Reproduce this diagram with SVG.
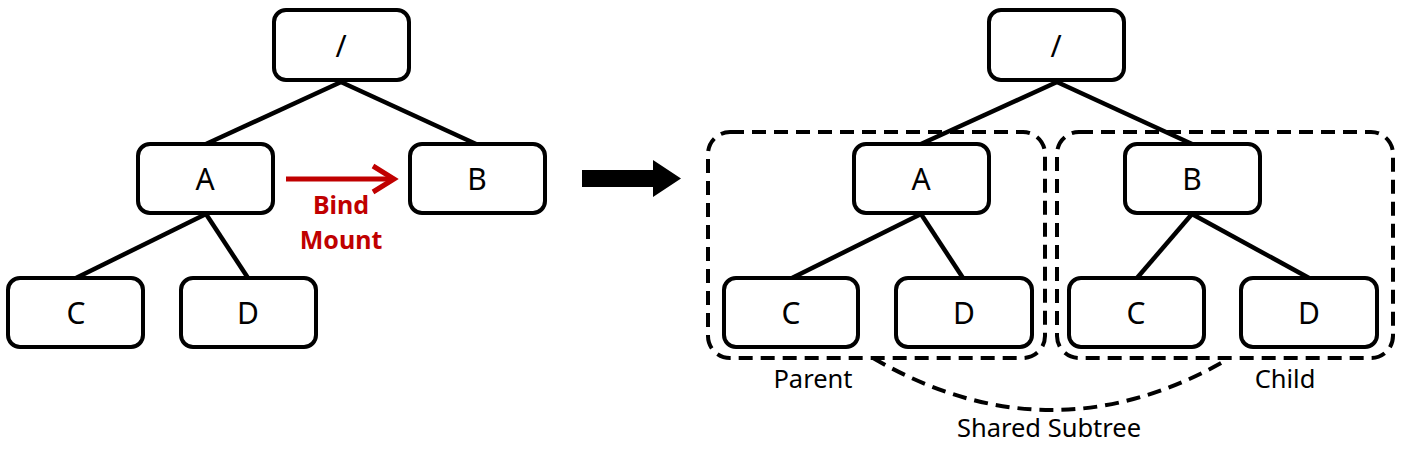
<svg xmlns="http://www.w3.org/2000/svg" width="1404" height="453" viewBox="0 0 1404 453">
<style>
.n{fill:#fff;stroke:#000;stroke-width:4}
.t{font-family:"Noto Sans","Liberation Sans",sans-serif;font-size:30px;fill:#000;text-anchor:middle}
.l{font-family:"Noto Sans","Liberation Sans",sans-serif;font-size:25.5px;fill:#000;text-anchor:middle}
.e{stroke:#000;stroke-width:4.5;fill:none}
.d{stroke:#000;stroke-width:4;fill:none;stroke-dasharray:14 8}
.r{font-family:"Noto Sans","Liberation Sans",sans-serif;font-size:25px;font-weight:bold;fill:#c00000;text-anchor:middle}
</style>
<rect width="1404" height="453" fill="#fff"/>
<g id="connectors">
<line class="e" x1="341" y1="82" x2="206" y2="144"/>
<line class="e" x1="341" y1="82" x2="476" y2="144"/>
<line class="e" x1="206" y1="214" x2="76" y2="278"/>
<line class="e" x1="206" y1="214" x2="248" y2="278"/>
<line class="e" x1="1057" y1="82" x2="921" y2="144"/>
<line class="e" x1="1057" y1="82" x2="1192" y2="144"/>
<line class="e" x1="921" y1="214" x2="792" y2="278"/>
<line class="e" x1="921" y1="214" x2="963" y2="278"/>
<line class="e" x1="1192" y1="214" x2="1137" y2="278"/>
<line class="e" x1="1192" y1="214" x2="1309" y2="278"/>
<g id="bind-arrow">
<line x1="286" y1="179" x2="393" y2="179" stroke="#c00000" stroke-width="5"/>
<polyline points="373,166 394,179 373,192" fill="none" stroke="#c00000" stroke-width="5"/>
</g>
<polygon id="big-arrow" points="582,170 653,170 653,160 681,178.5 653,197 653,187 582,187" fill="#000"/>
<path class="d" d="M873,358 Q1048,460 1223,362" stroke-width="4.5"/>
</g>
<g id="left-root"><rect class="n" x="274" y="10" width="135" height="70" rx="12"/><text class="t" x="341" y="57">/</text></g>
<g id="left-A"><rect class="n" x="138" y="144" width="135" height="69" rx="12"/><text class="t" x="205" y="190">A</text></g>
<g id="left-B"><rect class="n" x="410" y="144" width="135" height="69" rx="12"/><text class="t" x="477" y="190">B</text></g>
<g id="left-C"><rect class="n" x="8" y="278" width="135" height="69" rx="12"/><text class="t" x="76" y="324">C</text></g>
<g id="left-D"><rect class="n" x="181" y="278" width="135" height="69" rx="12"/><text class="t" x="248" y="324">D</text></g>
<g id="bind-label"><text class="r" x="341" y="214">Bind</text><text class="r" x="341" y="249">Mount</text></g>
<g id="parent-group"><rect class="d" x="708" y="132" width="337" height="226" rx="22"/><text class="l" x="813" y="388">Parent</text></g>
<g id="child-group"><rect class="d" x="1057" y="132" width="336" height="226" rx="22"/><text class="l" x="1285" y="388">Child</text></g>
<g id="shared-label"><text class="l" x="1049" y="437">Shared Subtree</text></g>
<g id="right-root"><rect class="n" x="989" y="10" width="135" height="70" rx="12"/><text class="t" x="1056" y="57">/</text></g>
<g id="right-A"><rect class="n" x="854" y="144" width="135" height="69" rx="12"/><text class="t" x="921" y="190">A</text></g>
<g id="right-B"><rect class="n" x="1125" y="144" width="135" height="69" rx="12"/><text class="t" x="1192" y="190">B</text></g>
<g id="right-C"><rect class="n" x="724" y="278" width="134" height="69" rx="12"/><text class="t" x="791" y="324">C</text></g>
<g id="right-D"><rect class="n" x="896" y="278" width="136" height="69" rx="12"/><text class="t" x="964" y="324">D</text></g>
<g id="right-C2"><rect class="n" x="1069" y="278" width="135" height="69" rx="12"/><text class="t" x="1136" y="324">C</text></g>
<g id="right-D2"><rect class="n" x="1241" y="278" width="136" height="69" rx="12"/><text class="t" x="1309" y="324">D</text></g>
</svg>
